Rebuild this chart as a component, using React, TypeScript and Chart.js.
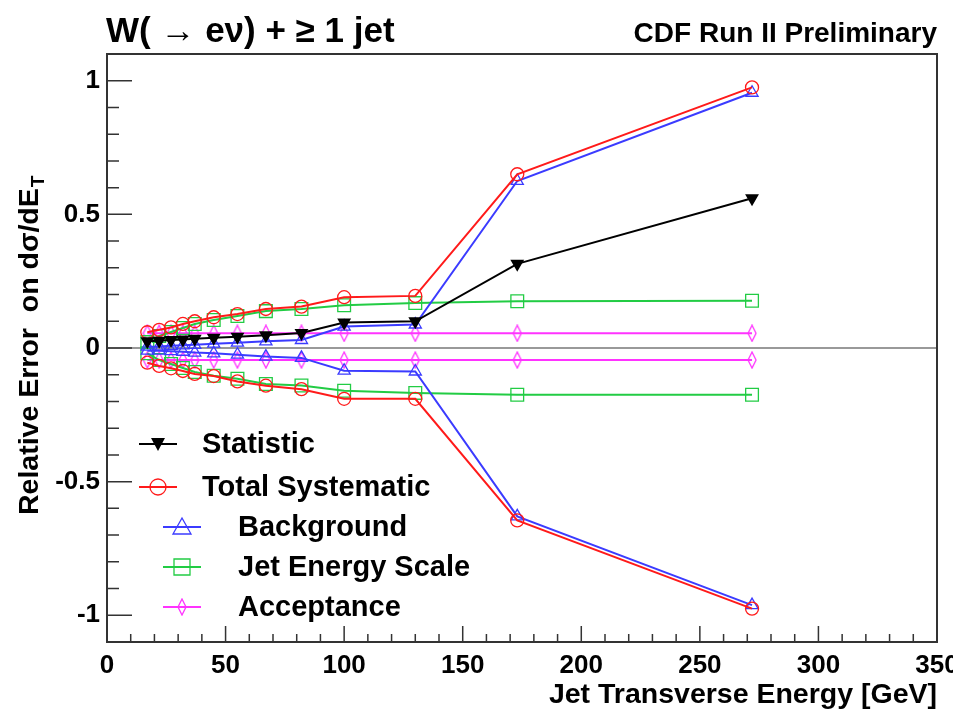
import React, { useEffect, useRef } from 'react';
import { Chart, registerables } from 'chart.js';

Chart.register(...registerables);

// ---- data ----
const energies = [17, 22, 27, 32, 37, 45, 55, 67, 82, 100, 130, 173, 272];
const statistic = [0.025, 0.027, 0.03, 0.032, 0.035, 0.038, 0.042, 0.048, 0.056, 0.095, 0.1, 0.315, 0.56];
const totalSystUp = [0.059, 0.068, 0.077, 0.09, 0.1, 0.115, 0.127, 0.146, 0.155, 0.19, 0.195, 0.65, 0.975];
const totalSystDown = [-0.055, -0.067, -0.076, -0.086, -0.097, -0.105, -0.125, -0.141, -0.154, -0.19, -0.19, -0.645, -0.975];
const backgroundUp = [0.005, 0.006, 0.008, 0.01, 0.012, 0.016, 0.02, 0.025, 0.03, 0.08, 0.088, 0.625, 0.955];
const backgroundDown = [-0.01, -0.01, -0.012, -0.014, -0.017, -0.02, -0.025, -0.032, -0.037, -0.085, -0.088, -0.63, -0.962];
const jesUp = [0.022, 0.045, 0.06, 0.075, 0.09, 0.105, 0.12, 0.138, 0.146, 0.16, 0.168, 0.175, 0.177];
const jesDown = [-0.02, -0.045, -0.06, -0.075, -0.09, -0.104, -0.115, -0.135, -0.14, -0.16, -0.168, -0.175, -0.175];
const acceptanceUp = [0.055, 0.055, 0.055, 0.055, 0.055, 0.055, 0.055, 0.055, 0.055, 0.055, 0.055, 0.055, 0.055];
const acceptanceDown = [-0.045, -0.045, -0.045, -0.045, -0.045, -0.045, -0.045, -0.045, -0.045, -0.045, -0.045, -0.045, -0.045];

const yLabelValues = [-1, -0.5, 0, 0.5, 1];
const xLabelValues = [0, 50, 100, 150, 200, 250, 300, 350];

const legendLabels = ['Statistic', 'Total Systematic', 'Background', 'Jet Energy Scale', 'Acceptance'];

const titleText = 'W( \u2192 e\u03bd) + \u2265 1 jet';
const cornerText = 'CDF Run II Preliminary';
const xTitle = 'Jet Transverse Energy [GeV]';
const yTitleMain = 'Relative Error  on d\u03c3/dE';
const yTitleSub = 'T';

// ---- styles ----
const RED = '#ff1a1a';
const BLUE = '#3b3bff';
const GREEN = '#22cc44';
const MAGENTA = '#ff33ff';
const BLACK = '#000000';
const FONT = '"Liberation Sans", Arial, Helvetica, sans-serif';

function makeDiamond(color: string): HTMLCanvasElement {
  const c = document.createElement('canvas');
  c.width = 10;
  c.height = 18;
  const g = c.getContext('2d')!;
  g.strokeStyle = color;
  g.lineWidth = 1.3;
  g.beginPath();
  g.moveTo(5, 1);
  g.lineTo(9, 9);
  g.lineTo(5, 17);
  g.lineTo(1, 9);
  g.closePath();
  g.stroke();
  return c;
}

const pts = (ys: number[]) => energies.map((x, i) => ({ x, y: ys[i] }));

export default function App() {
  const ref = useRef<HTMLCanvasElement>(null);

  useEffect(() => {
    const canvas = ref.current!;
    const diamond = makeDiamond(MAGENTA);

    const base = { showLine: true, borderWidth: 2, tension: 0, fill: false };
    const open = (color: string, style: any, r: number) => ({
      ...base,
      borderColor: color,
      pointBorderColor: color,
      pointBackgroundColor: 'rgba(0,0,0,0)',
      pointBorderWidth: 1.3,
      pointStyle: style,
      pointRadius: r,
    });

    const datasets: any[] = [
      {
        ...base,
        label: legendLabels[0],
        data: pts(statistic),
        borderColor: BLACK,
        pointBackgroundColor: BLACK,
        pointBorderColor: BLACK,
        pointStyle: 'triangle',
        rotation: 180,
        pointRadius: 6,
      },
      { label: legendLabels[1], data: pts(totalSystUp), ...open(RED, 'circle', 6.5) },
      { label: legendLabels[1] + ' down', data: pts(totalSystDown), ...open(RED, 'circle', 6.5) },
      { label: legendLabels[2], data: pts(backgroundUp), ...open(BLUE, 'triangle', 7) },
      { label: legendLabels[2] + ' down', data: pts(backgroundDown), ...open(BLUE, 'triangle', 7) },
      { label: legendLabels[3], data: pts(jesUp), ...open(GREEN, 'rect', 9) },
      { label: legendLabels[3] + ' down', data: pts(jesDown), ...open(GREEN, 'rect', 9) },
      { label: legendLabels[4], data: pts(acceptanceUp), ...open(MAGENTA, diamond, 7) },
      { label: legendLabels[4] + ' down', data: pts(acceptanceDown), ...open(MAGENTA, diamond, 7) },
    ];

    const isMult = (v: number, m: number) => Math.abs(v / m - Math.round(v / m)) < 1e-6;

    const decor = {
      id: 'decor',
      afterDraw(chart: any) {
        const ctx = chart.ctx as CanvasRenderingContext2D;
        const a = chart.chartArea;
        const xs = chart.scales.x;
        const ys = chart.scales.y;
        ctx.save();
        // inside tick marks
        ctx.strokeStyle = '#333';
        ctx.lineWidth = 1.5;
        ctx.beginPath();
        for (const t of ys.ticks) {
          const p = ys.getPixelForValue(t.value);
          const len = isMult(t.value, 0.5) ? 25 : 12;
          ctx.moveTo(a.left, p);
          ctx.lineTo(a.left + len, p);
        }
        for (const t of xs.ticks) {
          const p = xs.getPixelForValue(t.value);
          const len = isMult(t.value, 50) ? 16 : 8;
          ctx.moveTo(p, a.bottom);
          ctx.lineTo(p, a.bottom - len);
        }
        ctx.stroke();
        // frame
        ctx.strokeStyle = '#333';
        ctx.lineWidth = 2;
        ctx.strokeRect(a.left, a.top, a.right - a.left, a.bottom - a.top);

        // titles
        ctx.fillStyle = '#000';
        ctx.textBaseline = 'alphabetic';
        ctx.font = `bold 35px ${FONT}`;
        ctx.textAlign = 'left';
        ctx.fillText(titleText, 106, 42);
        ctx.font = `bold 28px ${FONT}`;
        ctx.textAlign = 'right';
        ctx.fillText(cornerText, 937, 42);
        ctx.font = `bold 28.5px ${FONT}`;
        ctx.fillText(xTitle, 937, 703);

        // y title, rotated
        ctx.save();
        ctx.translate(38, 515);
        ctx.rotate(-Math.PI / 2);
        ctx.textAlign = 'left';
        ctx.font = `bold 28.5px ${FONT}`;
        ctx.fillText(yTitleMain, 0, 0);
        const w = ctx.measureText(yTitleMain).width;
        ctx.font = `bold 19px ${FONT}`;
        ctx.fillText(yTitleSub, w + 1, 6);
        ctx.restore();

        // legend
        const rows = [
          { y: 444, x0: 139, x1: 177, tx: 202, color: BLACK, kind: 'down' },
          { y: 487, x0: 139, x1: 177, tx: 202, color: RED, kind: 'circle' },
          { y: 527, x0: 163, x1: 201, tx: 238, color: BLUE, kind: 'tri' },
          { y: 567, x0: 163, x1: 201, tx: 238, color: GREEN, kind: 'square' },
          { y: 607, x0: 163, x1: 201, tx: 238, color: MAGENTA, kind: 'diamond' },
        ];
        rows.forEach((r, i) => {
          const mx = (r.x0 + r.x1) / 2;
          ctx.strokeStyle = r.color;
          ctx.lineWidth = 2;
          ctx.beginPath();
          ctx.moveTo(r.x0, r.y);
          ctx.lineTo(r.x1, r.y);
          ctx.stroke();
          ctx.lineWidth = 1.3;
          ctx.beginPath();
          if (r.kind === 'down') {
            ctx.fillStyle = BLACK;
            ctx.moveTo(mx - 7, r.y - 6);
            ctx.lineTo(mx + 7, r.y - 6);
            ctx.lineTo(mx, r.y + 7);
            ctx.closePath();
            ctx.fill();
          } else if (r.kind === 'circle') {
            ctx.arc(mx, r.y, 8, 0, Math.PI * 2);
            ctx.stroke();
          } else if (r.kind === 'tri') {
            ctx.moveTo(mx, r.y - 9);
            ctx.lineTo(mx + 9, r.y + 7);
            ctx.lineTo(mx - 9, r.y + 7);
            ctx.closePath();
            ctx.stroke();
          } else if (r.kind === 'square') {
            ctx.rect(mx - 8, r.y - 8, 16, 16);
            ctx.stroke();
          } else {
            ctx.drawImage(diamond, mx - 5, r.y - 9, 10, 18);
          }
          ctx.fillStyle = '#000';
          ctx.textAlign = 'left';
          ctx.textBaseline = 'middle';
          ctx.font = `bold 29px ${FONT}`;
          ctx.fillText(legendLabels[i], r.tx, r.y + 1);
        });
        ctx.restore();
      },
    };

    const chart = new Chart(canvas, {
      type: 'scatter',
      data: { datasets },
      options: {
        responsive: false,
        animation: false,
        events: [],
        layout: { padding: { left: 0, top: 54, right: 16, bottom: 0 } },
        plugins: { legend: { display: false }, tooltip: { enabled: false }, title: { display: false } },
        scales: {
          x: {
            type: 'linear',
            min: 0,
            max: 350,
            afterFit: (s: any) => {
              s.height = 70;
              s.paddingLeft = 0;
              s.paddingRight = 0;
            },
            grid: { display: false, drawTicks: false },
            border: { display: false },
            ticks: {
              stepSize: 10,
              autoSkip: false,
              maxRotation: 0,
              padding: 8,
              color: '#000',
              font: { family: FONT, size: 26, weight: 'bold' },
              callback: (v: any) => (xLabelValues.some((l) => Math.abs(l - v) < 1e-6) ? String(v) : ''),
            },
          },
          y: {
            type: 'linear',
            min: -1.1,
            max: 1.1,
            afterFit: (s: any) => {
              s.width = 107;
              s.paddingTop = 0;
              s.paddingBottom = 0;
            },
            grid: {
              drawTicks: false,
              color: (c: any) => (c.tick && Math.abs(c.tick.value) < 1e-9 ? '#999999' : 'rgba(0,0,0,0)'),
              lineWidth: 2,
            },
            border: { display: false },
            ticks: {
              stepSize: 0.1,
              autoSkip: false,
              padding: 7,
              color: '#000',
              font: { family: FONT, size: 26, weight: 'bold' },
              callback: (v: any) => {
                const hit = yLabelValues.find((l) => Math.abs(l - v) < 1e-6);
                return hit === undefined ? '' : String(hit);
              },
            },
          },
        },
      },
      plugins: [decor],
    } as any);

    return () => chart.destroy();
  }, []);

  return (
    <div style={{ position: 'absolute', left: 0, top: 0, width: 953, height: 712, background: '#fff' }}>
      <canvas ref={ref} width={953} height={712} style={{ display: 'block' }} />
    </div>
  );
}
